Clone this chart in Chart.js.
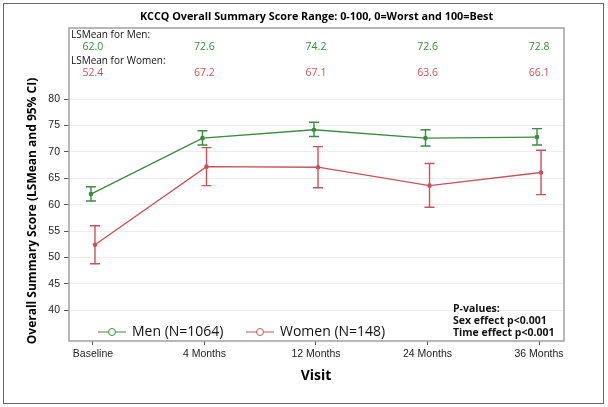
<!DOCTYPE html>
<html>
<head>
<meta charset="utf-8">
<script src="https://cdn.jsdelivr.net/npm/chart.js@4.4.0/dist/chart.umd.min.js"></script>
<style>
  html, body { margin: 0; padding: 0; background: #fff; }
  #wrap { width: 608px; height: 407px; }
</style>
</head>
<body>
<div id="wrap"><canvas id="c" width="608" height="407"></canvas></div>
<script>
// data
var visits = ["Baseline", "4 Months", "12 Months", "24 Months", "36 Months"];
var menMean = [62.0, 72.6, 74.2, 72.6, 72.8];
var menLow = [60.7, 71.3, 72.9, 71.1, 71.3];
var menHigh = [63.4, 74.0, 75.6, 74.2, 74.4];
var womenMean = [52.4, 67.2, 67.1, 63.6, 66.1];
var womenLow = [48.8, 63.6, 63.2, 59.5, 61.9];
var womenHigh = [56.0, 70.8, 71.0, 67.8, 70.3];
var yTicks = [40, 45, 50, 55, 60, 65, 70, 75, 80];
var pValues = ["P-values:", "Sex effect p<0.001", "Time effect p<0.001"];

var GREEN = "#3a8c3f";
var RED = "#c9535a";
var FONT = "'Open Sans', 'DejaVu Sans', sans-serif";
var TICKFONT = "'Liberation Sans', Arial, sans-serif";

function pts(vals, shift) {
    return vals.map(function (v, i) { return {x: i + shift, y: v}; });
}

var extras = {
    id: "extras",
    afterDatasetsDraw: function (chart) {
        var ctx = chart.ctx;
        var xs = chart.scales.x, ys = chart.scales.y;
        var a = chart.chartArea;

        // error bars
        function bars(lo, hi, shift, color) {
            ctx.save();
            ctx.strokeStyle = color;
            ctx.lineWidth = 1.4;
            for (var i = 0; i < lo.length; i++) {
                var x = xs.getPixelForValue(i + shift);
                var y1 = ys.getPixelForValue(lo[i]);
                var y2 = ys.getPixelForValue(hi[i]);
                ctx.beginPath();
                ctx.moveTo(x, y1); ctx.lineTo(x, y2);
                ctx.moveTo(x - 5, y1); ctx.lineTo(x + 5, y1);
                ctx.moveTo(x - 5, y2); ctx.lineTo(x + 5, y2);
                ctx.stroke();
            }
            ctx.restore();
        }
        bars(menLow, menHigh, -0.018, GREEN);
        bars(womenLow, womenHigh, 0.018, RED);

        ctx.save();
        // frame
        ctx.strokeStyle = "#a0a0a0";
        ctx.lineWidth = 1.5;
        ctx.strokeRect(a.left, a.top, a.right - a.left, a.bottom - a.top);

        // outer border
        ctx.strokeStyle = "#666";
        ctx.lineWidth = 1;
        ctx.strokeRect(3.5, 3.5, 600, 400);

        // title
        ctx.fillStyle = "#000";
        ctx.textBaseline = "middle";
        ctx.textAlign = "center";
        ctx.font = "bold 10.8px " + FONT;
        ctx.fillText("KCCQ Overall Summary Score Range: 0-100, 0=Worst and 100=Best", 316.5, 17);

        // x title
        ctx.font = "bold 14px " + FONT;
        ctx.fillText("Visit", 316, 376);

        // y title
        ctx.save();
        ctx.translate(33, 211);
        ctx.rotate(-Math.PI / 2);
        ctx.font = "bold 12px " + FONT;
        ctx.fillText("Overall Summary Score (LSMean and 95% CI)", 0, 0);
        ctx.restore();

        // LSMean inset
        ctx.textAlign = "left";
        ctx.font = "10px " + FONT;
        ctx.fillStyle = "#111";
        ctx.fillText("LSMean for Men:", a.left + 2, 35);
        ctx.fillText("LSMean for Women:", a.left + 2, 61);
        ctx.textAlign = "center";
        ctx.font = "10.5px " + FONT;
        for (var i = 0; i < visits.length; i++) {
            var x = xs.getPixelForValue(i);
            ctx.fillStyle = GREEN;
            ctx.fillText(menMean[i].toFixed(1), x, 47);
            ctx.fillStyle = RED;
            ctx.fillText(womenMean[i].toFixed(1), x, 73);
        }

        // legend
        function legItem(x0, color, label) {
            var y = 332;
            ctx.strokeStyle = color;
            ctx.lineWidth = 1;
            ctx.beginPath();
            ctx.moveTo(x0, y); ctx.lineTo(x0 + 28, y);
            ctx.stroke();
            ctx.fillStyle = "#fff";
            ctx.beginPath();
            ctx.arc(x0 + 14, y, 3.5, 0, Math.PI * 2);
            ctx.fill(); ctx.stroke();
            ctx.fillStyle = "#111";
            ctx.textAlign = "left";
            ctx.font = "14px " + FONT;
            ctx.fillText(label, x0 + 34, y);
        }
        legItem(98, GREEN, "Men (N=1064)");
        legItem(246, RED, "Women (N=148)");

        // p-values
        ctx.font = "bold 10.5px " + FONT;
        ctx.fillStyle = "#111";
        ctx.textAlign = "left";
        ctx.fillText(pValues[0], 453, 309);
        ctx.fillText(pValues[1], 453, 321);
        ctx.fillText(pValues[2], 453, 333);
        ctx.restore();
    }
};

new Chart(document.getElementById("c"), {
    type: "line",
    data: {
        datasets: [{
            label: "Men (N=1064)",
            data: pts(menMean, -0.018),
            borderColor: GREEN,
            backgroundColor: GREEN,
            borderWidth: 1.4,
            pointRadius: 1.6,
            tension: 0
        }, {
            label: "Women (N=148)",
            data: pts(womenMean, 0.018),
            borderColor: RED,
            backgroundColor: RED,
            borderWidth: 1.4,
            pointRadius: 1.6,
            tension: 0
        }]
    },
    options: {
        responsive: false,
        animation: false,
        layout: { padding: { top: 28, right: 44, left: 0, bottom: 0 } },
        plugins: {
            legend: { display: false },
            tooltip: { enabled: false }
        },
        scales: {
            x: {
                type: "linear",
                min: -0.215,
                max: 4.224,
                afterBuildTicks: function (s) {
                    s.ticks = visits.map(function (v, i) { return {value: i}; });
                },
                afterFit: function (s) { s.height = 66; },
                ticks: {
                    autoSkip: false,
                    maxRotation: 0,
                    padding: 3,
                    color: "#222",
                    font: { family: TICKFONT, size: 10.5 },
                    callback: function (v) { return visits[v]; }
                },
                grid: { drawOnChartArea: false, tickLength: 4, tickColor: "#555" },
                border: { display: false }
            },
            y: {
                min: 34.18,
                max: 93.46,
                afterBuildTicks: function (s) {
                    s.ticks = yTicks.map(function (v) { return {value: v}; });
                },
                afterFit: function (s) { s.width = 69; },
                ticks: {
                    padding: 4,
                    color: "#222",
                    font: { family: TICKFONT, size: 10.5 }
                },
                grid: { color: "#ededed", tickLength: 5, tickColor: "#555" },
                border: { display: false }
            }
        }
    },
    plugins: [extras]
});
</script>
</body>
</html>
